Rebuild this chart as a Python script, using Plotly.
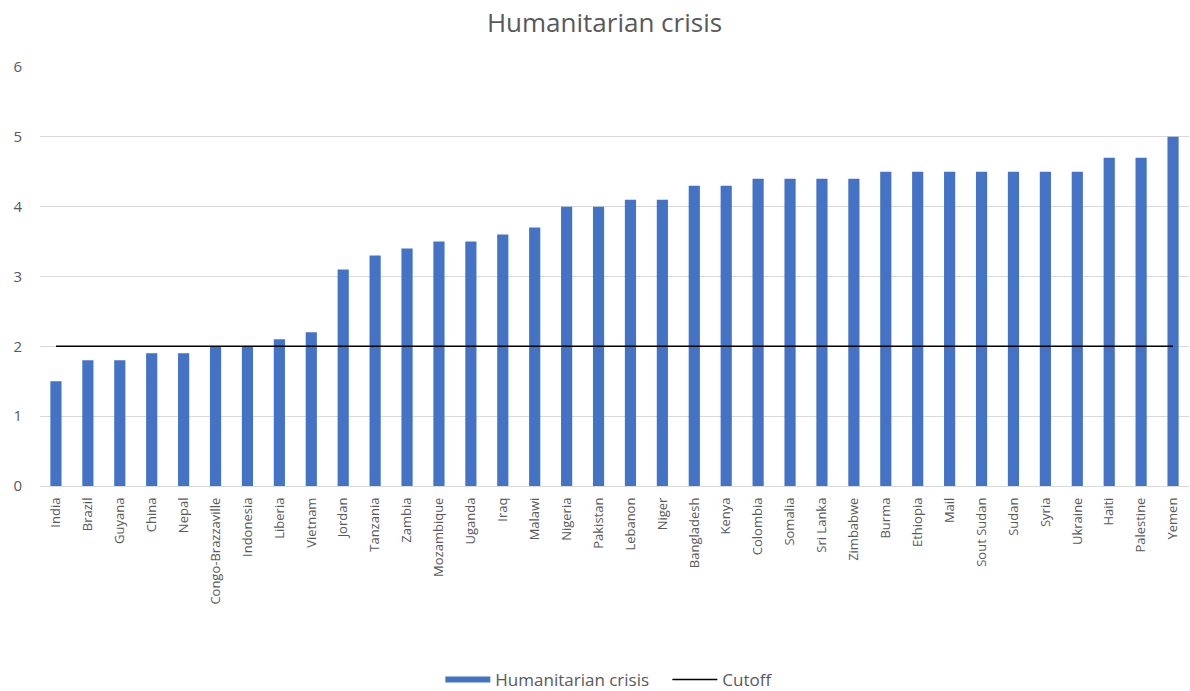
import plotly.graph_objects as go

countries = [
    "India", "Brazil", "Guyana", "China", "Nepal", "Congo-Brazzaville",
    "Indonesia", "Liberia", "Vietnam", "Jordan", "Tanzania", "Zambia",
    "Mozambique", "Uganda", "Iraq", "Malawi", "Nigeria", "Pakistan",
    "Lebanon", "Niger", "Bangladesh", "Kenya", "Colombia", "Somalia",
    "Sri Lanka", "Zimbabwe", "Burma", "Ethiopia", "Mail", "Sout Sudan",
    "Sudan", "Syria", "Ukraine", "Haiti", "Palestine", "Yemen",
]
crisis_scores = [
    1.5, 1.8, 1.8, 1.9, 1.9, 2.0,
    2.0, 2.1, 2.2, 3.1, 3.3, 3.4,
    3.5, 3.5, 3.6, 3.7, 4.0, 4.0,
    4.1, 4.1, 4.3, 4.3, 4.4, 4.4,
    4.4, 4.4, 4.5, 4.5, 4.5, 4.5,
    4.5, 4.5, 4.5, 4.7, 4.7, 5.0,
]
cutoff_value = 2
cutoff = [cutoff_value] * len(countries)

font_family = "Open Sans, Noto Sans, Liberation Sans, sans-serif"
text_gray = "#595959"
bar_blue = "#4472C4"

fig = go.Figure()
fig.add_trace(go.Bar(
    x=countries, y=crisis_scores, name="Humanitarian crisis",
    marker=dict(color=bar_blue, line=dict(width=0)),
    width=0.35, legendgroup="crisis", showlegend=False,
))
# legend entry for the bars, drawn as a wide swatch
fig.add_trace(go.Scatter(
    x=[None], y=[None], name="Humanitarian crisis   ", mode="lines",
    line=dict(color=bar_blue, width=6), legendgroup="crisis",
))
fig.add_trace(go.Scatter(
    x=countries, y=cutoff, name="Cutoff", mode="lines",
    line=dict(color="#000000", width=1.5),
))

fig.update_layout(
    width=1190, height=691,
    margin=dict(l=40, r=1, t=67, b=205, autoexpand=False),
    paper_bgcolor="white", plot_bgcolor="white",
    title=dict(text="Humanitarian crisis", x=0.508, xanchor="center",
               y=0.967, yanchor="middle",
               font=dict(family=font_family, size=26, color=text_gray)),
    font=dict(family=font_family, color=text_gray, size=13),
    bargap=0.65,
    showlegend=True,
    legend=dict(orientation="h", x=0.4955, xanchor="center", y=-0.463,
                yanchor="middle", font=dict(size=17, color=text_gray),
                itemwidth=45, traceorder="normal"),
    xaxis=dict(tickangle=-90, showgrid=False, showline=False,
               ticks="", ticklabelstandoff=8,
               tickfont=dict(size=13, color=text_gray)),
    yaxis=dict(range=[0, 6], dtick=1, showgrid=True, gridcolor="#D9D9D9",
               gridwidth=1, zeroline=True, zerolinecolor="#D9D9D9",
               zerolinewidth=1, showline=False, ticks="",
               ticklabelstandoff=17,
               tickfont=dict(size=15, color=text_gray)),
)

fig.write_html("out.html")
